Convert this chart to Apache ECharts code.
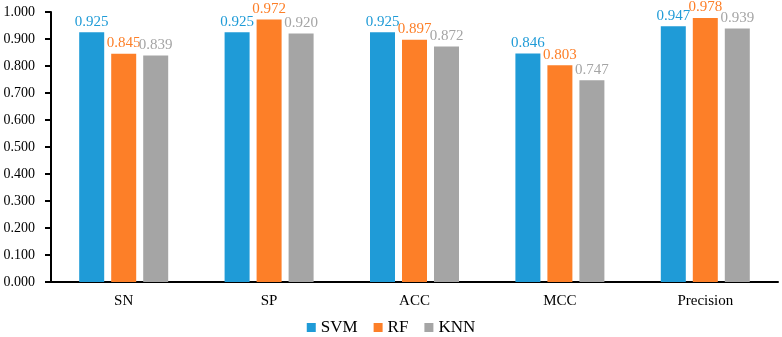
<!DOCTYPE html>
<html>
<head>
<meta charset="utf-8">
<script src="https://cdn.jsdelivr.net/npm/echarts@6/dist/echarts.min.js"></script>
<style>
  html, body { margin: 0; padding: 0; background: #fff; }
  #chart { width: 782px; height: 337px; }
</style>
</head>
<body>
<div id="chart"></div>
<script>
const categories = ['SN', 'SP', 'ACC', 'MCC', 'Precision'];
const seriesNames = ['SVM', 'RF', 'KNN'];
const svm = [0.925, 0.925, 0.925, 0.846, 0.947];
const rf = [0.845, 0.972, 0.897, 0.803, 0.978];
const knn = [0.839, 0.920, 0.872, 0.747, 0.939];

const font = 'Liberation Serif';

function barSeries(name, data, color) {
    return {
        name: name,
        type: 'bar',
        data: data,
        barWidth: 25,
        barGap: '28%',
        itemStyle: { color: color },
        label: {
            show: true,
            position: 'top',
            distance: 3,
            color: color,
            fontFamily: font,
            fontSize: 15,
            formatter: p => p.value.toFixed(3)
        }
    };
}

const chart = echarts.init(document.getElementById('chart'));
chart.setOption({
    animation: false,
    textStyle: { fontFamily: font },
    grid: { left: 51, right: 4, top: 12, bottom: 55 },
    legend: {
        bottom: 1,
        padding: 0,
        left: 'center',
        itemWidth: 9,
        itemHeight: 9,
        itemGap: 16,
        icon: 'rect',
        textStyle: { fontFamily: font, fontSize: 17, color: '#000' },
        data: seriesNames
    },
    xAxis: {
        type: 'category',
        data: categories,
        axisLine: { lineStyle: { color: '#000', width: 2 } },
        axisTick: { show: false },
        axisLabel: { color: '#000', fontFamily: font, fontSize: 15, margin: 12 }
    },
    yAxis: {
        type: 'value',
        min: 0,
        max: 1,
        interval: 0.1,
        axisLine: { show: true, lineStyle: { color: '#000', width: 2 } },
        axisTick: { show: true, length: 6, lineStyle: { color: '#000', width: 2 } },
        splitLine: { show: false },
        axisLabel: {
            color: '#000',
            fontFamily: font,
            fontSize: 14,
            margin: 16,
            formatter: v => v.toFixed(3)
        }
    },
    series: [
        barSeries(seriesNames[0], svm, '#1f9bd7'),
        barSeries(seriesNames[1], rf, '#fd7f28'),
        barSeries(seriesNames[2], knn, '#a5a5a5')
    ]
});
</script>
</body>
</html>
